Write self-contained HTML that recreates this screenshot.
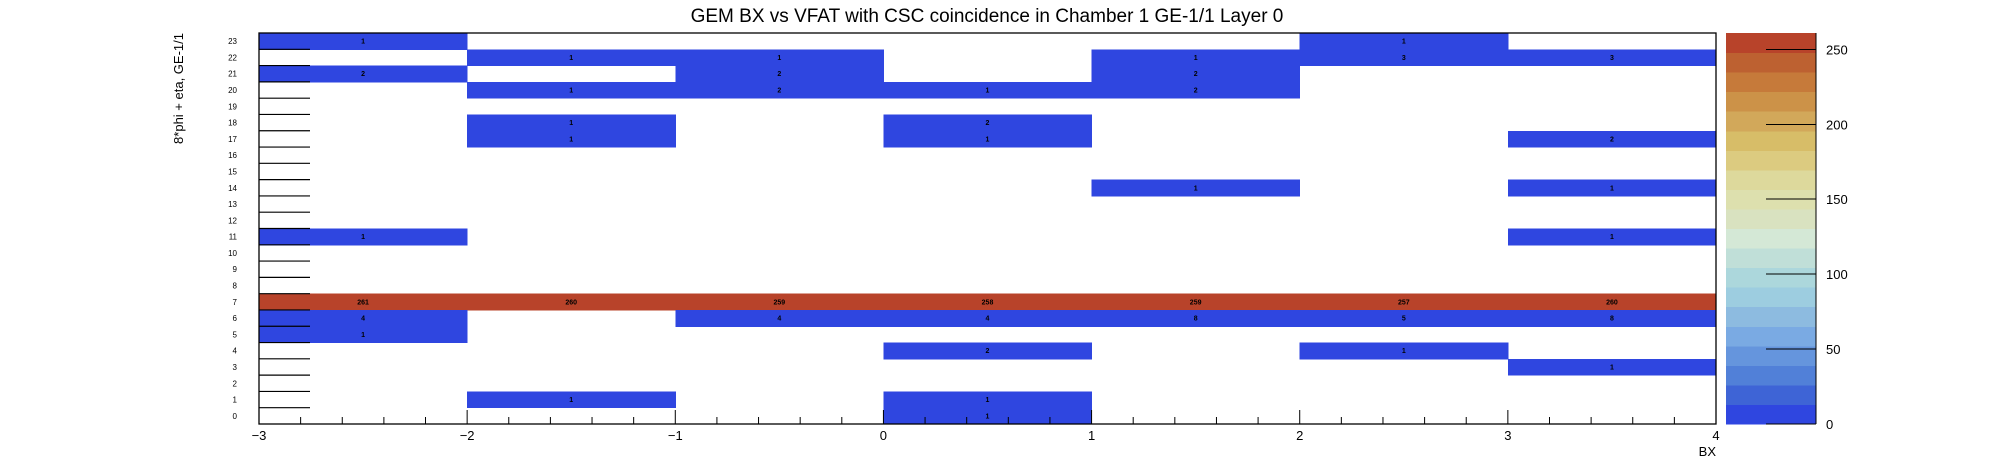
<!DOCTYPE html>
<html><head><meta charset="utf-8"><style>
html,body{margin:0;padding:0;background:#fff;}
svg{display:block;font-family:"Liberation Sans",sans-serif;}
</style></head><body>
<svg id="chart" width="1996" height="472" xmlns="http://www.w3.org/2000/svg">
<text x="987" y="22" font-size="19" text-anchor="middle">GEM BX vs VFAT with CSC coincidence in Chamber 1 GE-1/1 Layer 0</text>
<text transform="translate(183,33) rotate(-90)" font-size="13" text-anchor="end">8*phi + eta, GE-1/1</text>
<text x="1716" y="456" font-size="13" text-anchor="end">BX</text>
<g id="cells" shape-rendering="crispEdges"></g><g id="axes"></g><g id="cbar" shape-rendering="crispEdges"></g>
</svg>
<script>
const xBins = [-3,-2,-1,0,1,2,3];
const yTickLabels = ["0","1","2","3","4","5","6","7","8","9","10","11","12","13","14","15","16","17","18","19","20","21","22","23"];
const xTickLabels = ["-3","-2","-1","0","1","2","3","4"];
const cellX = [-3,2, -2,-1,1,2,3, -3,-1,1, -2,-1,0,1, -2,0, -2,0,3, 1,3, -3,3, -3,-2,-1,0,1,2,3, -3,-1,0,1,2,3, -3, 0,2, 3, -2,0, 0];
const cellY = [23,23, 22,22,22,22,22, 21,21,21, 20,20,20,20, 18,18, 17,17,17, 14,14, 11,11, 7,7,7,7,7,7,7, 6,6,6,6,6,6, 5, 4,4, 3, 1,1, 0];
const cellV = [1,1, 1,1,1,3,3, 2,2,2, 1,2,1,2, 1,2, 1,1,2, 1,1, 1,1, 261,260,259,258,259,257,260, 4,4,4,8,5,8, 1, 2,1, 1, 1,1, 1];
const cbarTicks = [0,50,100,150,200,250];
const palette = ["#2f46e0","#3e64d6","#5180d8","#6595dd","#7aaae3","#8dbbe0","#9dcde0","#acd7dc","#c0dfd8","#d4e8d6","#d9e2c0","#dde0ae","#ddd99c","#dccb80","#d7bd68","#d2a85a","#cc9248","#c67a3a","#bd6131","#b8432a"];
const X0=259,X1=1716,Y0=33,Y1=424, xmin=-3,xmax=4,ymax=24, zmax=261;
const NS="http://www.w3.org/2000/svg";
const sx=v=>X0+(v-xmin)/(xmax-xmin)*(X1-X0);
const sy=v=>Y1-v/ymax*(Y1-Y0);
const CB0=1726,CB1=1816;
function mk(tag,attrs,parent){const e=document.createElementNS(NS,tag);for(const k in attrs)e.setAttribute(k,attrs[k]);parent.appendChild(e);return e;}
const cells=document.getElementById('cells'),axes=document.getElementById('axes'),cb=document.getElementById('cbar');
function colorFor(v){let i=Math.floor(v/zmax*palette.length);if(i>=palette.length)i=palette.length-1;return palette[i];}
for(let i=0;i<cellV.length;i++){
  const r=mk('rect',{x:sx(cellX[i]),y:sy(cellY[i]+1),width:sx(cellX[i]+1)-sx(cellX[i])+0.5,height:sy(cellY[i])-sy(cellY[i]+1)+0.5,fill:colorFor(cellV[i])},cells);
  
  
}
for(let i=0;i<cellV.length;i++){
  const t=mk('text',{x:sx(cellX[i]+0.5),y:sy(cellY[i]+0.5)+2.5,'font-size':7,'font-weight':'bold','text-anchor':'middle'},axes);
  
  
  t.textContent=cellV[i];
}
mk('rect',{x:X0,y:Y0,width:X1-X0,height:Y1-Y0,fill:'none',stroke:'#000','stroke-width':1.3},axes);
for(let k=1;k<ymax;k++){
  mk('line',{x1:X0,x2:310,y1:sy(k),y2:sy(k),stroke:'#000','stroke-width':1.2},axes);
}
yTickLabels.forEach((lab,k)=>{
  const t=mk('text',{x:237,y:sy(k+0.5)+3,'font-size':8,'text-anchor':'end'},axes);
  
  
  t.textContent=lab;
});
for(let v=xmin;v<=xmax+1e-9;v+=0.2){
  const major=Math.abs(v-Math.round(v))<1e-6;
  mk('line',{x1:sx(v),x2:sx(v),y1:Y1,y2:Y1-(major?14:7),stroke:'#000','stroke-width':1},axes);
}
xTickLabels.forEach((lab,k)=>{
  const t=mk('text',{x:sx(xmin+k),y:440,'font-size':13,'text-anchor':'middle'},axes);
  
  
  t.textContent=lab.replace('-','\u2212');
});
const bh=(Y1-Y0)/palette.length;
palette.forEach((c,i)=>{
  const r=mk('rect',{x:CB0,y:Y1-(i+1)*bh,width:CB1-CB0,height:bh+0.5,fill:c},cb);
  
  
});
mk('line',{x1:CB1,x2:CB1,y1:Y0,y2:Y1,stroke:'#000','stroke-width':1.2},cb);
mk('line',{x1:1766,x2:CB1,y1:Y1,y2:Y1,stroke:'#000','stroke-width':1.2},cb);
const cs=v=>Y1-v/250*(Y1-49.4);
cbarTicks.forEach(v=>{
  mk('line',{x1:1766,x2:CB1,y1:cs(v),y2:cs(v),stroke:'#000','stroke-width':1},cb);
  const t=mk('text',{x:1826,y:cs(v)+5,'font-size':13},cb);
  
  
  t.textContent=v;
});
</script>
</body></html>
